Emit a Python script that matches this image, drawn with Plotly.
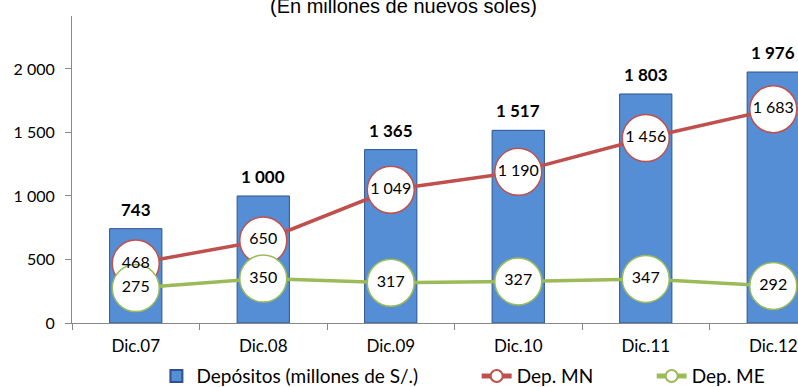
import plotly.graph_objects as go

# Deposit balances by year-end (millions of nuevos soles)
categorias = ["Dic.07", "Dic.08", "Dic.09", "Dic.10", "Dic.11", "Dic.12"]
depositos = [743, 1000, 1365, 1517, 1803, 1976]
dep_mn = [468, 650, 1049, 1190, 1456, 1683]
dep_me = [275, 350, 317, 327, 347, 292]


def fmt(v):
    return f"{v:,}".replace(",", " ")


FONT = "Lato"
AZUL = "#558ED5"
ROJO = "#C0504D"
VERDE = "#9BBB59"
PAD = "\u00a0" * 11  # extra room after each legend label

fig = go.Figure()

fig.add_trace(go.Bar(
    x=categorias, y=depositos, width=0.41,
    name="Depósitos (millones de S/.)" + PAD,
    marker=dict(color=AZUL, line=dict(color="#2F528F", width=1)),
))

fig.add_trace(go.Scatter(
    x=categorias, y=dep_mn, mode="lines+markers", name="Dep. MN" + PAD,
    line=dict(color=ROJO, width=3.5),
    marker=dict(size=47, color="white", line=dict(color=ROJO, width=1.5)),
    cliponaxis=False,
))

fig.add_trace(go.Scatter(
    x=categorias, y=dep_me, mode="lines+markers", name="Dep. ME",
    line=dict(color=VERDE, width=3.5),
    marker=dict(size=47, color="white", line=dict(color=VERDE, width=1.5)),
    cliponaxis=False,
))

# value labels inside the circular markers, drawn above all markers
for serie in (dep_mn, dep_me):
    fig.add_trace(go.Scatter(
        x=categorias, y=serie, mode="text",
        text=[fmt(v) for v in serie], textposition="middle center",
        textfont=dict(family=FONT, size=16, color="black"),
        showlegend=False, hoverinfo="skip", cliponaxis=False,
    ))

# bold totals above each bar
for c, v in zip(categorias, depositos):
    fig.add_annotation(
        x=c, y=v, text=f"<b>{fmt(v)}</b>", showarrow=False,
        yanchor="bottom", yshift=7,
        font=dict(family=FONT, size=17, color="black"),
    )

fig.add_annotation(
    xref="paper", yref="paper", x=0.457, y=1.0, yanchor="bottom", yshift=-3,
    text="(En millones de nuevos soles)", showarrow=False,
    font=dict(family="Liberation Sans", size=20, color="black"),
)

fig.update_layout(
    width=798, height=387,
    margin=dict(l=72, r=0, t=16, b=64),
    paper_bgcolor="white", plot_bgcolor="white",
    separators=", ",
    showlegend=True,
    legend=dict(
        orientation="h", xref="container", x=0.196, xanchor="left",
        yref="container", y=0.028, yanchor="middle",
        font=dict(family=FONT, size=19, color="black"),
        bgcolor="rgba(0,0,0,0)", itemsizing="constant",
    ),
    font=dict(family=FONT, color="black"),
)

fig.update_xaxes(
    type="category", range=[-0.5, 5.194],
    showline=True, linecolor="#888888", linewidth=1,
    ticks="outside", tickson="boundaries", ticklen=6, tickcolor="#888888",
    tickfont=dict(family=FONT, size=17, color="black"),
    ticklabelstandoff=8,
    showgrid=False,
)

fig.update_yaxes(
    range=[0, 2417], tickvals=[0, 500, 1000, 1500, 2000], tickformat=",d",
    showline=True, linecolor="#888888", linewidth=1,
    ticks="outside", ticklen=6, tickcolor="#888888",
    tickfont=dict(family=FONT, size=16, color="black"),
    ticklabelstandoff=7,
    showgrid=False, zeroline=False,
)

fig.write_html("out.html")
